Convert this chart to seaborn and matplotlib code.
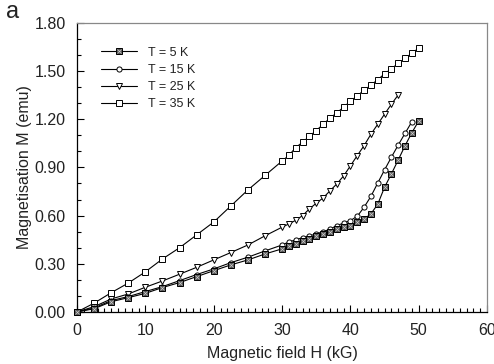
import matplotlib
matplotlib.use("Agg")
import matplotlib.pyplot as plt
from matplotlib.ticker import MultipleLocator, FormatStrFormatter
from matplotlib.lines import Line2D
import seaborn as sns

# field steps: 2.5 kG up to 30, then 1 kG
H_low = [0, 2.5, 5, 7.5, 10, 12.5, 15, 17.5, 20, 22.5, 25, 27.5, 30]

H_5 = H_low + list(range(31, 51))
M_5 = [0, 0.02, 0.064, 0.089, 0.116, 0.152, 0.183, 0.22, 0.257, 0.293, 0.324, 0.361, 0.393,
       0.41, 0.425, 0.44, 0.455, 0.47, 0.485, 0.50, 0.515, 0.528, 0.538, 0.563, 0.578, 0.611,
       0.671, 0.777, 0.86, 0.947, 1.036, 1.117, 1.19]

H_15 = H_low + list(range(31, 50))
M_15 = [0, 0.025, 0.071, 0.096, 0.127, 0.158, 0.195, 0.233, 0.268, 0.307, 0.341, 0.380, 0.417,
        0.436, 0.449, 0.463, 0.474, 0.486, 0.50, 0.515, 0.538, 0.553, 0.569, 0.596, 0.652, 0.72,
        0.803, 0.885, 0.964, 1.04, 1.113, 1.185]

H_25 = H_low + list(range(31, 48))
M_25 = [0, 0.033, 0.081, 0.112, 0.154, 0.193, 0.235, 0.278, 0.324, 0.37, 0.417, 0.474, 0.528,
        0.548, 0.571, 0.60, 0.642, 0.677, 0.71, 0.754, 0.797, 0.847, 0.91, 0.974, 1.036, 1.107,
        1.169, 1.232, 1.294, 1.352]

H_35 = H_low + list(range(31, 51))
M_35 = [0, 0.055, 0.12, 0.18, 0.25, 0.33, 0.40, 0.48, 0.56, 0.66, 0.76, 0.85, 0.94,
        0.975, 1.024, 1.057, 1.094, 1.130, 1.168, 1.207, 1.240, 1.275, 1.313, 1.346, 1.381,
        1.412, 1.447, 1.483, 1.515, 1.548, 1.579, 1.612, 1.643]

labels = ["T = 5 K", "T = 15 K", "T = 25 K", "T = 35 K"]

sns.set_style("ticks")
plt.rcParams["font.family"] = ["Liberation Sans", "DejaVu Sans"]

fig = plt.figure(figsize=(4.94, 3.64), dpi=100)
ax = fig.add_axes([0.156, 0.143, 0.830, 0.794])

txt = "#222222"
ms = 3.7
kw = dict(color="black", linewidth=0.8, markersize=ms, markeredgewidth=0.7,
          markeredgecolor="black", clip_on=False, zorder=3)

sns.lineplot(x=H_35, y=M_35, ax=ax, marker="s", markerfacecolor="white", **kw)
sns.lineplot(x=H_25, y=M_25, ax=ax, marker="v", markerfacecolor="white", **kw)
sns.lineplot(x=H_15, y=M_15, ax=ax, marker="o", markerfacecolor="white", **kw)
sns.lineplot(x=H_5, y=M_5, ax=ax, marker="s", markerfacecolor="#555555", **kw)
# cross inside the 5 K squares
ax.plot(H_5, M_5, linestyle="none", marker="x", markersize=2.4, markeredgewidth=0.5,
        color="#cccccc", clip_on=False, zorder=4)

ax.set_xlim(0, 60)
ax.set_ylim(0, 1.80)
ax.xaxis.set_major_locator(MultipleLocator(10))
ax.xaxis.set_minor_locator(MultipleLocator(1))
ax.yaxis.set_major_locator(MultipleLocator(0.30))
ax.yaxis.set_minor_locator(MultipleLocator(0.10))
ax.yaxis.set_major_formatter(FormatStrFormatter("%.2f"))
ax.tick_params(which="both", direction="in", top=False, right=False, colors="black",
               labelcolor=txt, labelsize=11.5, width=0.8)
ax.tick_params(which="major", length=5, pad=8)
ax.tick_params(which="minor", length=3)

for s in ["top", "right"]:
    ax.spines[s].set_color("#888888")
    ax.spines[s].set_visible(True)
for s in ["left", "bottom"]:
    ax.spines[s].set_color("black")
for s in ax.spines.values():
    s.set_linewidth(0.9)

ax.set_xlabel("Magnetic field H (kG)", fontsize=11.5, color=txt, labelpad=6)
ax.set_ylabel("Magnetisation M (emu)", fontsize=11.5, color=txt, labelpad=2)

# legend
h5 = (Line2D([], [], color="black", lw=0.8, marker="s", ms=ms, mfc="#555555", mec="black", mew=0.7),
      Line2D([], [], ls="none", marker="x", ms=2.4, mew=0.5, color="#cccccc"))
h15 = Line2D([], [], color="black", lw=0.8, marker="o", ms=ms, mfc="white", mec="black", mew=0.7)
h25 = Line2D([], [], color="black", lw=0.8, marker="v", ms=ms, mfc="white", mec="black", mew=0.7)
h35 = Line2D([], [], color="black", lw=0.8, marker="s", ms=ms, mfc="white", mec="black", mew=0.7)
leg = ax.legend([h5, h15, h25, h35], labels, loc="upper left", bbox_to_anchor=(0.045, 0.935),
                frameon=False, fontsize=9, handlelength=2.9, labelspacing=0.42,
                handletextpad=0.9, borderaxespad=0)
for t in leg.get_texts():
    t.set_color(txt)

fig.text(0.012, 0.95, "a", fontsize=17, color=txt)

fig.savefig("out.png", dpi=100)
